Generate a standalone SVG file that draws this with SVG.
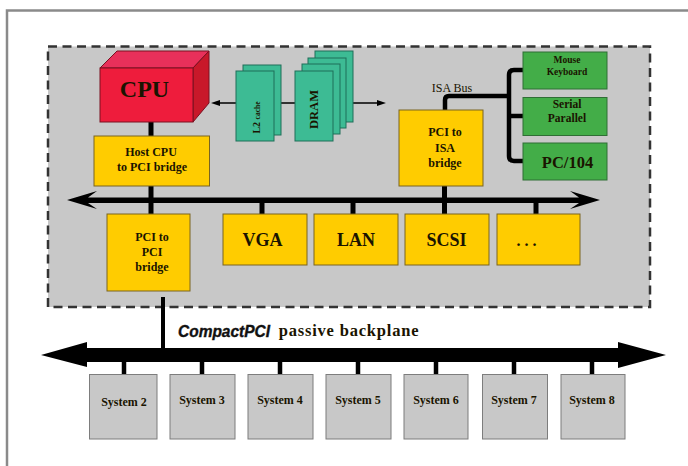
<svg xmlns="http://www.w3.org/2000/svg" width="688" height="466" viewBox="0 0 688 466">
<defs>
<style>
.s{font-family:"Liberation Serif","Times New Roman",serif;font-weight:bold;text-anchor:middle;fill:#1a1400}
.y{fill:#ffcc00;stroke:#7a6420;stroke-width:1}
.g{fill:#43ad48;stroke:#2f6e35;stroke-width:1}
.t{fill:#3dbb94;stroke:#1f6e58;stroke-width:1}
.sys{fill:#c8c8c8;stroke:#7d7d7d;stroke-width:1}
.w{stroke:#000;fill:none}
</style>
</defs>
<rect x="0" y="0" width="688" height="466" fill="#fff"/>
<path d="M7 466V10.500H688" fill="none" stroke="#8a8a8a" stroke-width="2.500"/>
<rect id="region" x="48" y="46.500" width="602" height="260.500" fill="#c8c8c8" stroke="#333" stroke-width="2.500" stroke-dasharray="9 5.500"/>
<g id="connectors">
<path class="w" stroke-width="5" d="M151 122V136M151 186V214M262 200V214M353 200V214M444.500 186V214M536 200V214"/>
<path class="w" stroke-width="4" d="M163 297V350"/>
<path class="w" stroke-width="4.500" d="M445 110V100Q445 96 449 96H509M523 70H514Q509 70 509 75V156Q509 161 514 161H523M509 116H523"/>
<path class="w" stroke-width="1.500" d="M218 103H380"/>
<path d="M211 103L220 100V106ZM386 103L377 100V106Z" fill="#000"/>
<path d="M67 200L97 191L88 197.500H579L570 191L600 200L570 209L579 203H88L97 209Z" fill="#000"/>
<path d="M41 355L87 342V348H618V342L666 355L618 368V362H87V367Z" fill="#000"/>
<path class="w" stroke-width="4.500" d="M124 361V374M202 361V374M280 361V374M358 361V374M436 361V374M514 361V374M592 361V374"/>
</g>
<g id="cpu">
<path d="M100 68L117 51H209L193 68Z" fill="#e8305a" stroke="#7a1020"/>
<path d="M193 68L209 51V103L193 122Z" fill="#c8182a" stroke="#7a1020"/>
<rect x="100" y="68" width="93" height="54" fill="#ee1c3c" stroke="#7a1020"/>
<text class="s" x="144.500" y="97" font-size="24">CPU</text>
</g>
<g id="l2-cache">
<rect class="t" x="243" y="65" width="38" height="70"/>
<rect class="t" x="236" y="71" width="38" height="70"/>
<text class="s" transform="translate(260 117.500) rotate(-90)" font-size="10">L2 <tspan font-size="7.500">cache</tspan></text>
</g>
<g id="dram">
<rect class="t" x="315" y="51" width="38" height="71"/>
<rect class="t" x="308" y="58" width="38" height="70"/>
<rect class="t" x="302" y="64" width="38" height="70"/>
<rect class="t" x="295" y="71" width="38" height="70"/>
<text class="s" transform="translate(318 109.500) rotate(-90)" font-size="12.500">DRAM</text>
</g>
<g id="host-bridge">
<rect class="y" x="94" y="136" width="115.500" height="50"/>
<text class="s" x="151" y="156" font-size="12">Host CPU</text>
<text class="s" x="152" y="171" font-size="12">to PCI bridge</text>
</g>
<g id="isa-bus-label"><text class="s" x="452" y="91.500" font-size="12" style="font-weight:normal">ISA Bus</text></g>
<g id="isa-bridge">
<rect class="y" x="399" y="110" width="84" height="76"/>
<text class="s" x="445" y="136" font-size="12">PCI to</text>
<text class="s" x="445" y="152" font-size="12">ISA</text>
<text class="s" x="445" y="167" font-size="12">bridge</text>
</g>
<g id="mouse-keyboard">
<rect class="g" x="523" y="52" width="84" height="37"/>
<text class="s" x="567" y="63" font-size="9.500">Mouse</text>
<text class="s" x="567" y="75" font-size="9.500">Keyboard</text>
</g>
<g id="serial-parallel">
<rect class="g" x="523" y="97.500" width="84" height="38"/>
<text class="s" x="567" y="108" font-size="11.500">Serial</text>
<text class="s" x="567" y="122" font-size="11.500">Parallel</text>
</g>
<g id="pc104">
<rect class="g" x="523" y="143" width="84" height="37"/>
<text class="s" x="567.500" y="168" font-size="16.500">PC/104</text>
</g>
<g id="pci-bridge">
<rect class="y" x="107" y="214" width="83" height="77"/>
<text class="s" x="152" y="241" font-size="12">PCI to</text>
<text class="s" x="152" y="256" font-size="12">PCI</text>
<text class="s" x="152" y="271" font-size="12">bridge</text>
</g>
<g id="vga"><rect class="y" x="223" y="214" width="84" height="51"/><text class="s" x="262.500" y="246" font-size="18">VGA</text></g>
<g id="lan"><rect class="y" x="314" y="214" width="84" height="51"/><text class="s" x="356" y="246" font-size="18">LAN</text></g>
<g id="scsi"><rect class="y" x="405" y="214" width="84" height="51"/><text class="s" x="446.500" y="246" font-size="18">SCSI</text></g>
<g id="more"><rect class="y" x="497" y="214" width="83" height="51"/><text class="s" x="526.500" y="246" font-size="16">. . .</text></g>
<g id="backplane-label">
<text x="178" y="337" font-family="'Liberation Sans',Arial,sans-serif" font-weight="bold" font-style="italic" font-size="17" textLength="92" lengthAdjust="spacingAndGlyphs" fill="#111" stroke="#111" stroke-width="0.400">CompactPCI</text>
<text class="s" x="349" y="336" font-size="16.500" letter-spacing="0.800">passive backplane</text>
</g>
<g id="system-2"><rect class="sys" x="89.500" y="374.500" width="67.500" height="64.500"/><text class="s" x="124" y="406" font-size="12">System 2</text></g>
<g id="system-3"><rect class="sys" x="170" y="374.500" width="65" height="64.500"/><text class="s" x="202" y="404" font-size="12">System 3</text></g>
<g id="system-4"><rect class="sys" x="248" y="374.500" width="65" height="64.500"/><text class="s" x="280" y="404" font-size="12">System 4</text></g>
<g id="system-5"><rect class="sys" x="326" y="374.500" width="65" height="64.500"/><text class="s" x="358" y="404" font-size="12">System 5</text></g>
<g id="system-6"><rect class="sys" x="404" y="374.500" width="64" height="64.500"/><text class="s" x="436" y="404" font-size="12">System 6</text></g>
<g id="system-7"><rect class="sys" x="482.500" y="374.500" width="65" height="64.500"/><text class="s" x="514" y="404" font-size="12">System 7</text></g>
<g id="system-8"><rect class="sys" x="561" y="374.500" width="64" height="64.500"/><text class="s" x="592" y="404" font-size="12">System 8</text></g>
</svg>
